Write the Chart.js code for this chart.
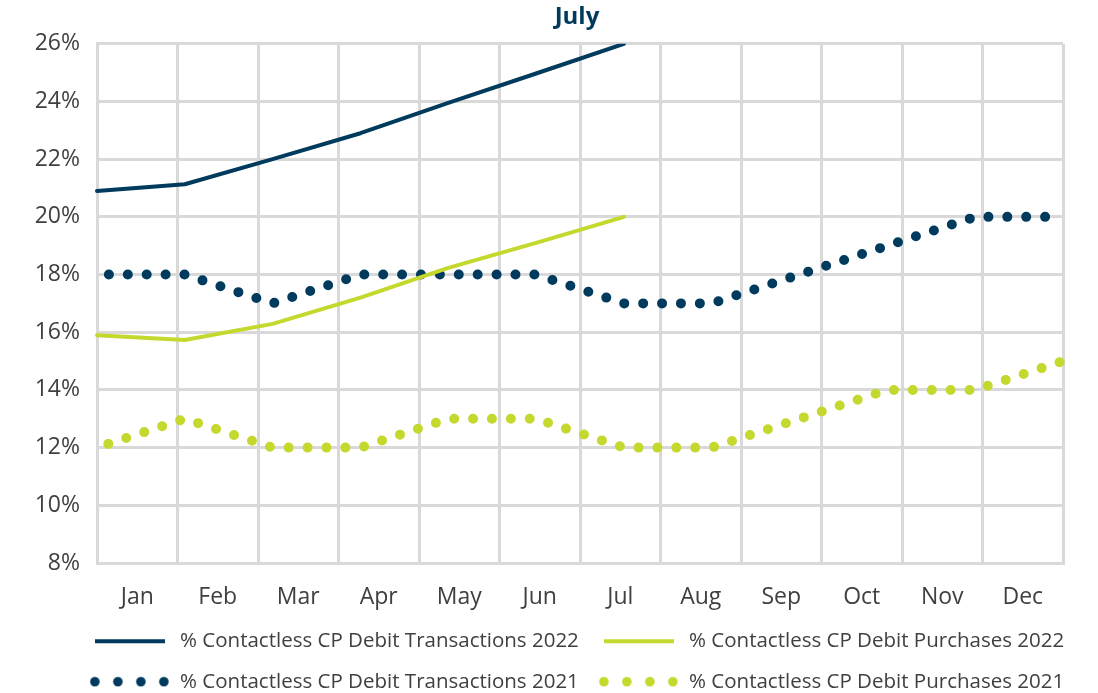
<!DOCTYPE html>
<html>
<head>
<meta charset="utf-8">
<title>Contactless CP Debit - July</title>
<script src="https://cdn.jsdelivr.net/npm/chart.js@4.4.1/dist/chart.umd.min.js"></script>
<style>
  html, body { margin: 0; padding: 0; background: #ffffff; }
</style>
</head>
<body>
<canvas id="contactlessChart" width="1098" height="693"></canvas>
<script>
// months on the x axis
const months = ["Jan", "Feb", "Mar", "Apr", "May", "Jun", "Jul", "Aug", "Sep", "Oct", "Nov", "Dec"];

// % values
const transactions2022 = [20.9, 21.13, 22.0, 22.9, 23.95, 24.97, 26.0];
const purchases2022 = [15.9, 15.73, 16.29, 17.2, 18.23, 19.1, 20.0];
const transactions2021 = [18, 18, 17, 18, 18, 18, 17, 17, 18, 19, 20, 20];
const purchases2021 = [12, 13, 12, 12, 13, 13, 12, 12, 13, 14, 14, 15];

const yMin = 8;
const yMax = 26;
const yStep = 2;

window.onload = function () {
  const colors = {
    navy: "#003a5d",
    lime: "#c4d82e",
    grid: "#d9d9d9",
    text: "#404040",
  };
  const fontFamily = "'Open Sans', sans-serif";

  // little legend pictures: solid line / row of dots
  function lineIcon(color) {
    const c = document.createElement("canvas");
    c.width = 70;
    c.height = 6;
    const g = c.getContext("2d");
    g.fillStyle = color;
    g.fillRect(0, 1, 70, 4);
    return c;
  }
  function dotIcon(color) {
    const c = document.createElement("canvas");
    c.width = 80;
    c.height = 11;
    const g = c.getContext("2d");
    g.fillStyle = color;
    [5, 28, 51, 74].forEach(x => {
      g.beginPath();
      g.arc(x, 5.5, 4.8, 0, Math.PI * 2);
      g.fill();
    });
    return c;
  }

  const solid = (label, data, color) => ({
    label: label,
    data: data,
    borderColor: color,
    backgroundColor: color,
    borderWidth: 4,
    borderCapStyle: "round",
    borderJoinStyle: "round",
    pointRadius: 0,
    pointHoverRadius: 0,
    pointStyle: lineIcon(color),
    tension: 0,
    fill: false,
  });
  const dotted = (label, data, color) => ({
    label: label,
    data: data,
    borderColor: color,
    backgroundColor: color,
    borderWidth: 10,
    borderCapStyle: "round",
    borderDash: [0, 18.9],
    borderDashOffset: 7,
    pointRadius: 0,
    pointHoverRadius: 0,
    pointStyle: dotIcon(color),
    tension: 0,
    fill: false,
  });

  const ctx = document.getElementById("contactlessChart").getContext("2d");
  new Chart(ctx, {
    type: "line",
    data: {
      labels: months,
      datasets: [
        solid("% Contactless CP Debit Transactions 2022", transactions2022, colors.navy),
        solid("% Contactless CP Debit Purchases 2022", purchases2022, colors.lime),
        dotted("% Contactless CP Debit Transactions 2021", transactions2021, colors.navy),
        dotted("% Contactless CP Debit Purchases 2021", purchases2021, colors.lime),
      ],
    },
    options: {
      responsive: false,
      animation: false,
      devicePixelRatio: 1,
      // negative right padding so title and legend centre on the plot area
      layout: { padding: { left: 0, right: -56, top: 0, bottom: -9 } },
      scales: {
        // data runs edge to edge
        x: { type: "category", offset: false, display: false },
        // month labels sit between the grid lines
        xl: {
          type: "category",
          labels: months,
          position: "bottom",
          offset: true,
          grid: { offset: true, color: colors.grid, lineWidth: 3, drawTicks: false },
          border: { color: colors.grid, width: 3 },
          ticks: { padding: 21, color: colors.text, font: { family: fontFamily, size: 23 } },
          afterFit: s => { s.height = 48; },
        },
        y: {
          min: yMin,
          max: yMax,
          ticks: {
            stepSize: yStep,
            padding: 17,
            color: colors.text,
            font: { family: fontFamily, size: 23 },
            callback: v => v + "%",
          },
          grid: { color: colors.grid, lineWidth: 3, drawTicks: false },
          border: { color: colors.grid, width: 3 },
          afterFit: s => { s.width = 97; },
        },
        yr: {
          position: "right",
          grid: { display: false },
          border: { display: false },
          ticks: { display: false },
          afterFit: s => { s.width = 91; },
        },
      },
      plugins: {
        title: {
          display: true,
          text: "July",
          color: colors.navy,
          font: { family: fontFamily, size: 24, weight: "bold" },
          padding: { top: 3, bottom: 12 },
        },
        legend: {
          position: "bottom",
          labels: {
            usePointStyle: true,
            pointStyleWidth: 80,
            padding: 20,
            color: colors.text,
            font: { family: fontFamily, size: 20.5 },
          },
        },
        tooltip: { enabled: false },
      },
    },
  });
};
</script>
</body>
</html>
